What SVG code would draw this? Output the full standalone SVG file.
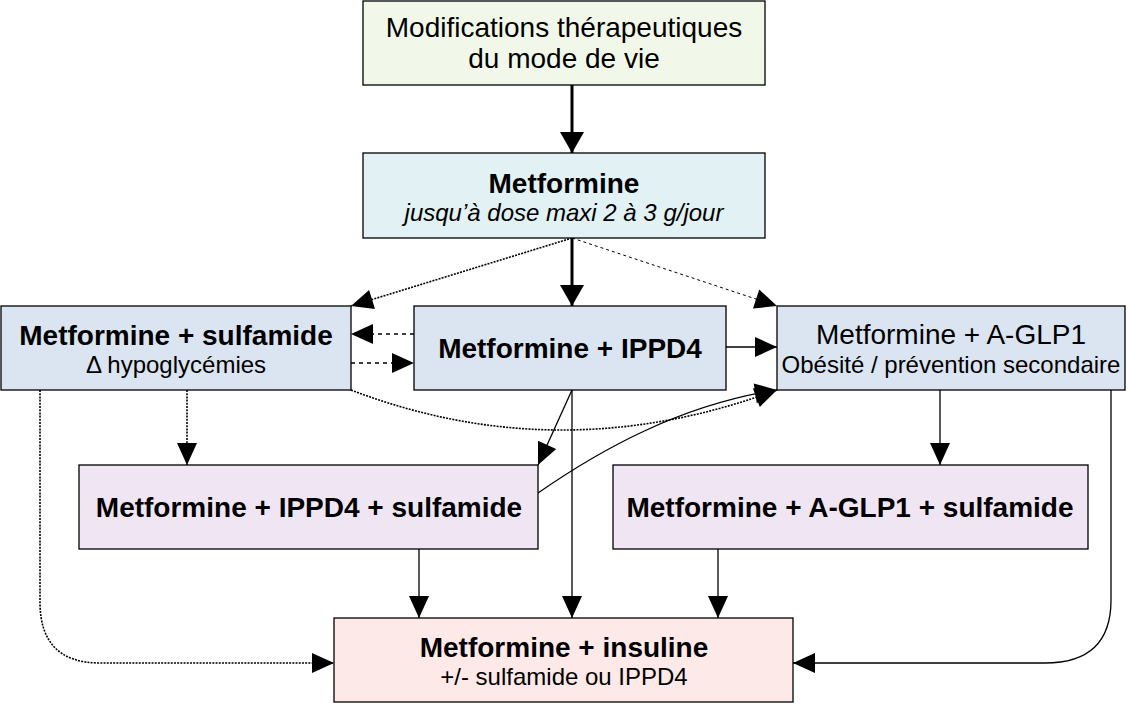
<svg xmlns="http://www.w3.org/2000/svg" width="1128" height="703" viewBox="0 0 1128 703">
<style>
.box{stroke:#000;stroke-width:1.3}
text{font-family:"Liberation Sans",Arial,sans-serif;fill:#000;text-anchor:middle}
.t1{font-size:28px}
.b{font-weight:bold}
.t2{font-size:24px}
.it{font-style:italic}
.c{fill:none;stroke:#000;stroke-width:1.3}
.thick{stroke-width:3}
.dot{stroke-dasharray:2,1.2;stroke-width:1.6}
.dash{stroke-dasharray:4,4;stroke-width:1.3}
.sdash{stroke-dasharray:3,3;stroke-width:1}
</style>
<defs>
<marker id="ah" markerWidth="22" markerHeight="20" refX="22" refY="10" orient="auto" markerUnits="userSpaceOnUse" overflow="visible"><path d="M0,0 L22,10 L0,20 z" fill="#000"/></marker>
<marker id="ahT" markerWidth="21" markerHeight="24" refX="21" refY="12" orient="auto" markerUnits="userSpaceOnUse" overflow="visible"><path d="M0,0 L21,12 L0,24 z" fill="#000"/></marker>
</defs>
<rect width="1128" height="703" fill="#fff"/>
<g id="connectors">
<path class="c thick" d="M572,85 L572,153" marker-end="url(#ahT)"/>
<path class="c thick" d="M572,238 L572,306" marker-end="url(#ahT)"/>
<path class="c dot" d="M572,238 L351,306" marker-end="url(#ah)"/>
<path class="c sdash" d="M572,238 L777,306" marker-end="url(#ah)"/>
<path class="c dash" d="M414,334 L351,334" marker-end="url(#ah)"/>
<path class="c dash" d="M351,363 L414,363" marker-end="url(#ah)"/>
<path class="c" d="M726,347 L777,347" marker-end="url(#ah)"/>
<path class="c dot" d="M351,390 Q560,470 777,390" marker-end="url(#ah)"/>
<path class="c" d="M538,493 C600,450 680,405 777,390" marker-end="url(#ah)"/>
<path class="c dot" d="M187,390 L187,465" marker-end="url(#ah)"/>
<path class="c dot" d="M40,390 L40,602 Q40,663 100,663 L334,663" marker-end="url(#ah)"/>
<path class="c" d="M572,390 L538,465" marker-end="url(#ah)"/>
<path class="c" d="M572,390 L572,618" marker-end="url(#ah)"/>
<path class="c" d="M940,390 L940,465" marker-end="url(#ah)"/>
<path class="c" d="M1111,390 L1111,600 Q1111,663 1045,663 L793,663" marker-end="url(#ah)"/>
<path class="c" d="M419,549 L419,618" marker-end="url(#ah)"/>
<path class="c" d="M718,549 L718,618" marker-end="url(#ah)"/>
</g>
<g id="n-modes">
<rect class="box" x="363" y="1" width="402" height="84" fill="#f1f8ea"/>
<text class="t1" x="564" y="37">Modifications thérapeutiques</text>
<text class="t1" x="564" y="68">du mode de vie</text>
</g>
<g id="n-metformine">
<rect class="box" x="363" y="153" width="402" height="85" fill="#e1f1f4"/>
<text class="t1 b" x="564" y="193">Metformine</text>
<text class="t2 it" x="564" y="221">jusqu’à dose maxi 2 à 3 g/jour</text>
</g>
<g id="n-sulfamide">
<rect class="box" x="1" y="306" width="350" height="84" fill="#dbe5f1"/>
<text class="t1 b" x="176" y="345">Metformine + sulfamide</text>
<text class="t2" x="176" y="373">Δ hypoglycémies</text>
</g>
<g id="n-ippd4">
<rect class="box" x="414" y="306" width="312" height="84" fill="#dbe5f1"/>
<text class="t1 b" x="570" y="358">Metformine + IPPD4</text>
</g>
<g id="n-aglp1">
<rect class="box" x="777" y="306" width="348" height="84" fill="#dbe5f1"/>
<text class="t1" x="951" y="344">Metformine + A-GLP1</text>
<text class="t2" x="951" y="373">Obésité / prévention secondaire</text>
</g>
<g id="n-ippd4-sulf">
<rect class="box" x="79" y="465" width="459" height="84" fill="#f0e6f3"/>
<text class="t1 b" x="309" y="517">Metformine + IPPD4 + sulfamide</text>
</g>
<g id="n-aglp1-sulf">
<rect class="box" x="613" y="465" width="475" height="84" fill="#f0e6f3"/>
<text class="t1 b" x="850" y="517">Metformine + A-GLP1 + sulfamide</text>
</g>
<g id="n-insuline">
<rect class="box" x="334" y="618" width="459" height="84" fill="#fdeae8"/>
<text class="t1 b" x="564" y="657">Metformine + insuline</text>
<text class="t2" x="564" y="685">+/- sulfamide ou IPPD4</text>
</g>
</svg>
